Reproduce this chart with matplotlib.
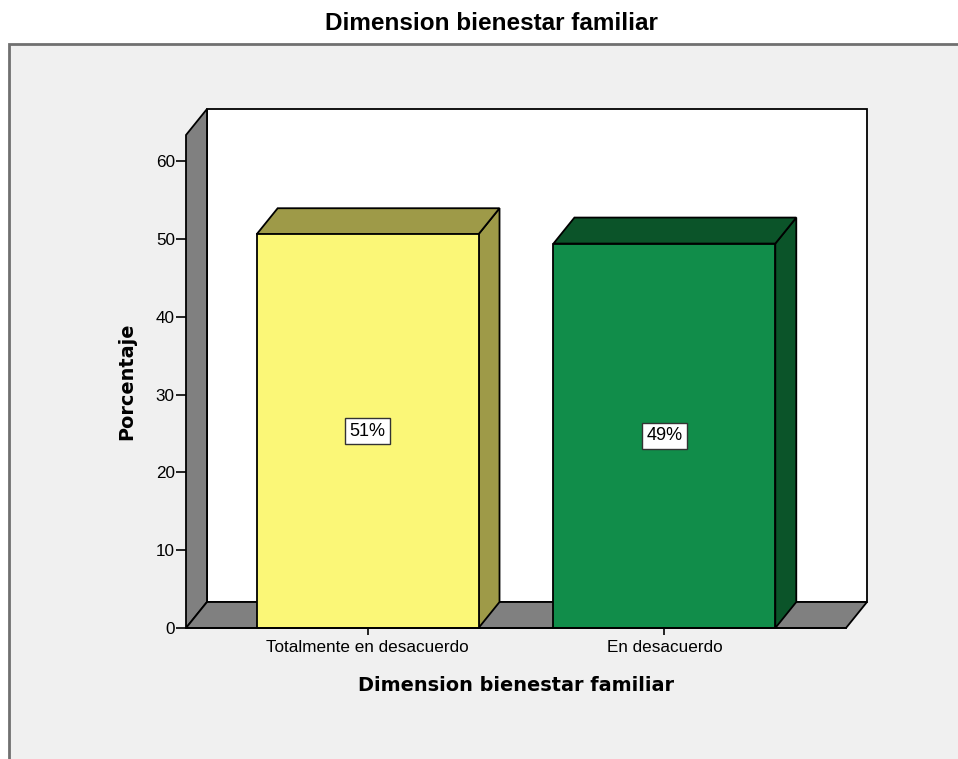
import matplotlib
matplotlib.use('Agg')
import matplotlib.pyplot as plt
from matplotlib.patches import Polygon, Rectangle

categorias = ['Totalmente en desacuerdo', 'En desacuerdo']
porcentajes = [50.6, 49.4]
etiquetas = ['51%', '49%']
colores_frente = ['#fbf777', '#118d4a']
colores_lado = ['#9e9a48', '#0b5429']
yticks = [0, 10, 20, 30, 40, 50, 60]

fig = plt.figure(figsize=(9.58, 7.59), dpi=100)
fig.patch.set_facecolor('white')

# marco gris de fondo
marco = Rectangle((9 / 958, -0.01), 1.0, (759 - 44) / 759 + 0.01,
                  transform=fig.transFigure, facecolor='#f0f0f0',
                  edgecolor='#707070', linewidth=2, zorder=-5)
fig.patches.append(marco)

ax = fig.add_axes([186 / 958, (759 - 628) / 759, 660 / 958, (628 - 135) / 759])
ax.set_zorder(2)
ax.set_xlim(-0.612, 1.612)
ax.set_ylim(0, 63.35)
ax.patch.set_visible(False)
for s in ax.spines.values():
    s.set_visible(False)

xl, xr = -0.612, 1.612
ymax = 63.35
dx, dy = 0.0707, 3.34   # profundidad 3D
ancho = 0.7475
lw = 1.3

# pared trasera, lateral y piso
ax.add_patch(Rectangle((xl + dx, dy), xr - xl, ymax, facecolor='white',
                       edgecolor='black', lw=lw, clip_on=False, zorder=1))
ax.add_patch(Polygon([(xl, 0), (xl, ymax), (xl + dx, ymax + dy), (xl + dx, dy)],
                     closed=True, facecolor='#808080', edgecolor='black', lw=lw,
                     clip_on=False, zorder=2))
ax.add_patch(Polygon([(xl, 0), (xr, 0), (xr + dx, dy), (xl + dx, dy)],
                     closed=True, facecolor='#808080', edgecolor='black', lw=lw,
                     clip_on=False, zorder=2))

# barras 3D
for i, v in enumerate(porcentajes):
    x0 = i - ancho / 2
    x1 = i + ancho / 2
    ax.add_patch(Polygon([(x1, 0), (x1 + dx, dy), (x1 + dx, v + dy), (x1, v)],
                         closed=True, facecolor=colores_lado[i], edgecolor='black',
                         lw=lw, clip_on=False, zorder=3))
    ax.add_patch(Polygon([(x0, v), (x1, v), (x1 + dx, v + dy), (x0 + dx, v + dy)],
                         closed=True, facecolor=colores_lado[i], edgecolor='black',
                         lw=lw, clip_on=False, zorder=3))
    ax.add_patch(Rectangle((x0, 0), ancho, v, facecolor=colores_frente[i],
                           edgecolor='black', lw=lw, clip_on=False, zorder=4))
    ax.text(i, v / 2, etiquetas[i], ha='center', va='center', fontsize=13,
            family='Liberation Sans', zorder=5,
            bbox=dict(boxstyle='square,pad=0.25', facecolor='white',
                      edgecolor='#333333', lw=1))

# ejes
ax.plot([xl, xr], [0, 0], color='black', lw=lw, clip_on=False, zorder=5)
ax.set_yticks(yticks)
ax.set_yticklabels([str(t) for t in yticks], family='Liberation Sans', fontsize=12.3)
ax.set_xticks([0, 1])
ax.set_xticklabels(categorias, family='Liberation Sans', fontsize=12.3)
ax.tick_params(axis='y', length=7, width=1.2, pad=1)
ax.tick_params(axis='x', length=5, width=1.2, pad=4)

ax.set_ylabel('Porcentaje', family='DejaVu Sans', fontweight='bold', fontsize=13.9, labelpad=14)
ax.set_xlabel('Dimension bienestar familiar', family='DejaVu Sans', fontweight='bold',
              fontsize=13.9, labelpad=15)
fig.text(491 / 958, 1 - 24 / 759, 'Dimension bienestar familiar', ha='center', va='center',
         family='Liberation Sans', fontweight='bold', fontsize=17.5)

fig.savefig('out.png', dpi=100)
